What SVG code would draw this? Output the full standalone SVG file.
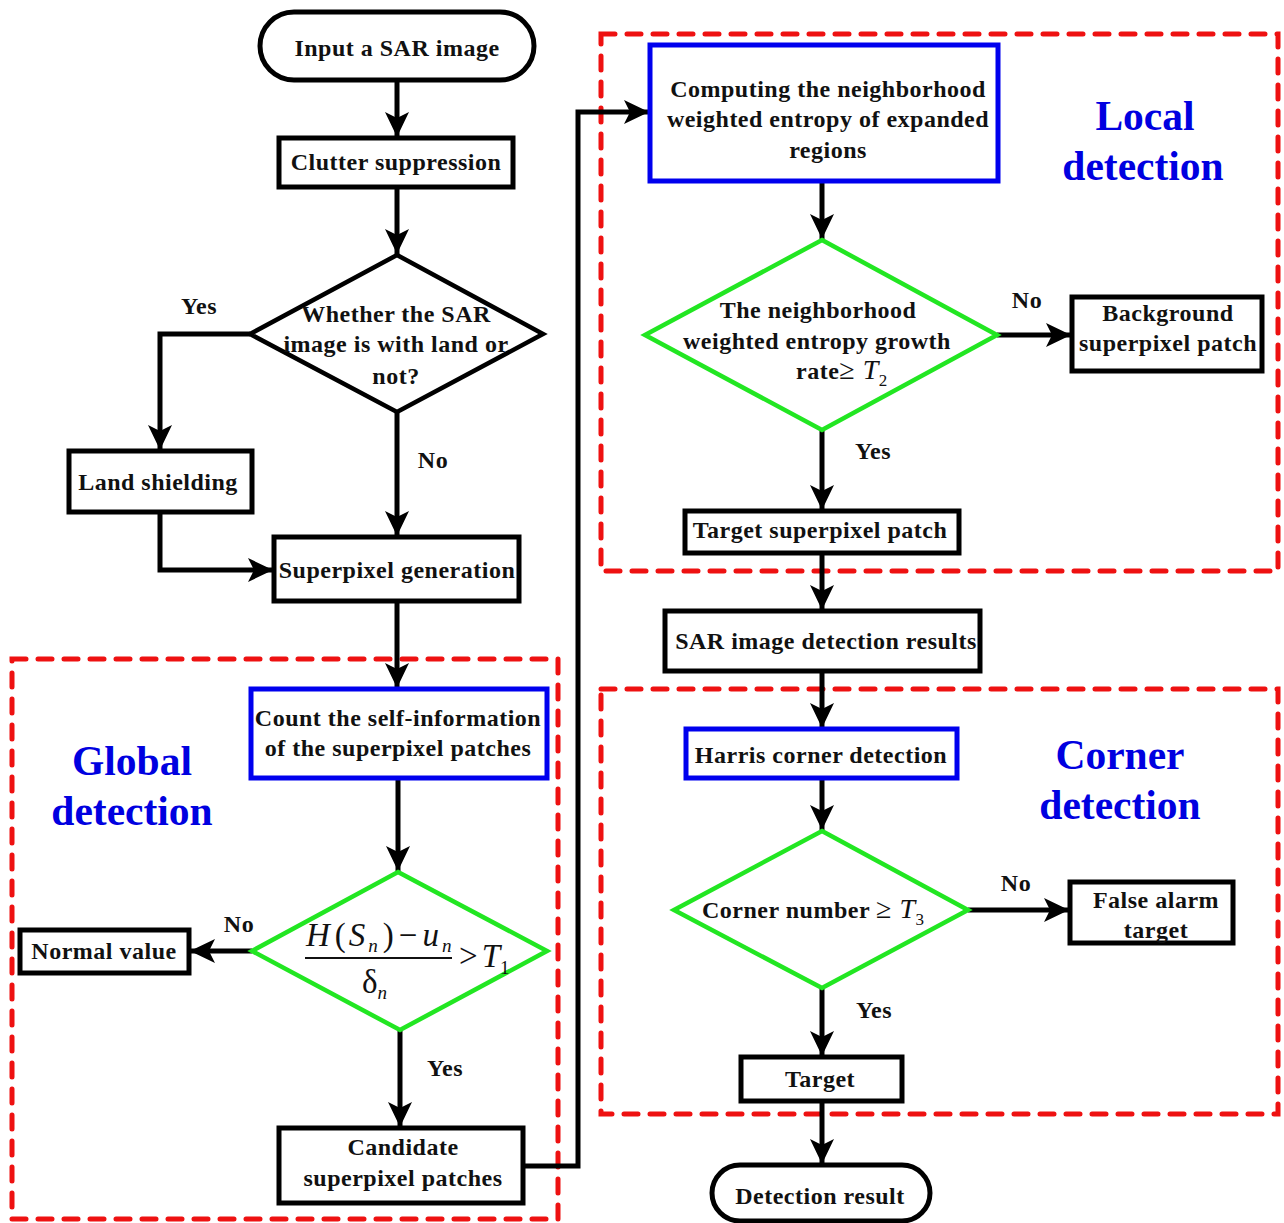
<svg xmlns="http://www.w3.org/2000/svg" width="1284" height="1223" viewBox="0 0 1284 1223">
<defs>
<style>
.t{font-family:"Liberation Serif","Times New Roman",serif;font-weight:bold;font-size:24px;letter-spacing:0.5px;fill:#111;text-anchor:middle}
.ts{text-anchor:start}
.big{font-family:"Liberation Serif","Times New Roman",serif;font-weight:bold;font-size:41.5px;fill:#0000e0;text-anchor:middle}
.m{font-family:"Liberation Serif","Times New Roman",serif;font-style:italic;font-weight:normal;fill:#111}
.mr{font-family:"Liberation Serif","Times New Roman",serif;font-style:normal;font-weight:normal;fill:#111}
.box{fill:#fff;stroke:#000;stroke-width:5}
.bbox{fill:#fff;stroke:#0000ee;stroke-width:5}
.dia{fill:#fff;stroke:#000;stroke-width:4.5}
.gdia{fill:#fff;stroke:#22e622;stroke-width:4.5}
.zone{fill:none;stroke:#ee1111;stroke-width:5;stroke-dasharray:14 12;stroke-linecap:round}
.ca{fill:none;stroke:#000;stroke-width:5;marker-end:url(#ah)}
</style>
<marker id="ah" markerUnits="userSpaceOnUse" markerWidth="26" markerHeight="26" viewBox="0 -13 26 26" refX="25" refY="0" orient="auto">
<path d="M0,-12 L25,0 L0,12 L6,0 z" fill="#000"/>
</marker>
</defs>

<g id="zones">
<rect id="zone-global" class="zone" x="12" y="659" width="546" height="560"/>
<rect id="zone-local" class="zone" x="601" y="34" width="677" height="537"/>
<rect id="zone-corner" class="zone" x="601" y="689" width="677" height="425"/>
</g>

<g id="connectors">
<line class="ca" x1="397" y1="80" x2="397" y2="137"/>
<line class="ca" x1="397" y1="187" x2="397" y2="254"/>
<polyline class="ca" points="250,334 160,334 160,450"/>
<line class="ca" x1="397" y1="412" x2="397" y2="536"/>
<polyline class="ca" points="160,512 160,570 273,570"/>
<line class="ca" x1="397" y1="601" x2="397" y2="688"/>
<line class="ca" x1="398" y1="778" x2="398" y2="871"/>
<line class="ca" x1="252" y1="951" x2="190" y2="951"/>
<line class="ca" x1="400" y1="1030" x2="400" y2="1127"/>
<polyline class="ca" points="523,1166 578,1166 578,112 649,112"/>
<line class="ca" x1="822" y1="181" x2="822" y2="239"/>
<line class="ca" x1="997" y1="335" x2="1071" y2="335"/>
<line class="ca" x1="822" y1="430" x2="822" y2="510"/>
<line class="ca" x1="822" y1="553" x2="822" y2="610"/>
<line class="ca" x1="822" y1="671" x2="822" y2="728"/>
<line class="ca" x1="822" y1="778" x2="822" y2="830"/>
<line class="ca" x1="968" y1="910" x2="1069" y2="910"/>
<line class="ca" x1="822" y1="988" x2="822" y2="1056"/>
<line class="ca" x1="822" y1="1101" x2="822" y2="1164"/>
</g>

<g id="edge-labels">
<text class="t" x="199" y="314">Yes</text>
<text class="t" x="433" y="468">No</text>
<text class="t" x="239" y="932">No</text>
<text class="t" x="445" y="1076">Yes</text>
<text class="t" x="1027" y="308">No</text>
<text class="t" x="873" y="459">Yes</text>
<text class="t" x="1016" y="891">No</text>
<text class="t" x="874" y="1018">Yes</text>
</g>

<g id="n-input">
<rect class="box" x="260" y="12" width="274" height="68" rx="34"/>
<text class="t" x="397" y="56">Input a SAR image</text>
</g>
<g id="n-clutter">
<rect class="box" x="279" y="138" width="234" height="49"/>
<text class="t" x="396" y="170">Clutter suppression</text>
</g>
<g id="n-land-q">
<polygon class="dia" points="397,255 543,334 397,412 250,334"/>
<text class="t" x="396" y="322">Whether the SAR</text>
<text class="t" x="396" y="352">image is with land or</text>
<text class="t" x="396" y="384">not?</text>
</g>
<g id="n-land">
<rect class="box" x="69" y="451" width="183" height="61"/>
<text class="t" x="158" y="490">Land shielding</text>
</g>
<g id="n-superpixel">
<rect class="box" x="274" y="537" width="245" height="64"/>
<text class="t" x="397" y="578">Superpixel generation</text>
</g>
<g id="n-count">
<rect class="bbox" x="251" y="689" width="296" height="89"/>
<text class="t" x="398" y="726">Count the self-information</text>
<text class="t" x="398" y="756">of the superpixel patches</text>
</g>
<g id="n-global-q">
<polygon class="gdia" points="398,872 547,951 400,1030 252,951"/>
<text class="m" x="306" y="946" font-size="33" letter-spacing="3">H<tspan class="mr" dx="2">(</tspan>S<tspan font-size="19" dy="6">n</tspan><tspan class="mr" dy="-6" dx="2">)</tspan><tspan class="mr" dx="2">−</tspan><tspan dx="2">u</tspan><tspan font-size="19" dy="6">n</tspan></text>
<line x1="305" y1="958" x2="452" y2="958" stroke="#111" stroke-width="2"/>
<text class="mr" x="362" y="993" font-size="33">δ<tspan class="m" font-size="19" dy="6">n</tspan></text>
<text class="mr" x="459" y="967" font-size="33">&gt;<tspan class="m" dx="4">T</tspan><tspan font-size="19" dy="7">1</tspan></text>
</g>
<g id="n-normal">
<rect class="box" x="20" y="930" width="169" height="43"/>
<text class="t" x="104" y="959">Normal value</text>
</g>
<g id="n-candidate">
<rect class="box" x="279" y="1128" width="244" height="75"/>
<text class="t" x="403" y="1155">Candidate</text>
<text class="t" x="403" y="1186">superpixel patches</text>
</g>
<g id="n-computing">
<rect class="bbox" x="650" y="45" width="348" height="136"/>
<text class="t" x="828" y="97">Computing the neighborhood</text>
<text class="t" x="828" y="127">weighted entropy of expanded</text>
<text class="t" x="828" y="158">regions</text>
</g>
<g id="n-local-q">
<polygon class="gdia" points="822,240 997,335 822,430 645,335"/>
<text class="t" x="818" y="318">The neighborhood</text>
<text class="t" x="817" y="349">weighted entropy growth</text>
<text class="t ts" x="796" y="379">rate<tspan class="mr" font-size="28">≥ </tspan><tspan class="m" font-size="28">T</tspan><tspan class="mr" font-size="17" dy="7">2</tspan></text>
</g>
<g id="n-background">
<rect class="box" x="1072" y="297" width="190" height="74"/>
<text class="t" x="1168" y="321">Background</text>
<text class="t" x="1168" y="351">superpixel patch</text>
</g>
<g id="n-target-patch">
<rect class="box" x="685" y="511" width="274" height="42"/>
<text class="t" x="820" y="538">Target superpixel patch</text>
</g>
<g id="n-sar-results">
<rect class="box" x="665" y="611" width="315" height="60"/>
<text class="t" x="826" y="649">SAR image detection results</text>
</g>
<g id="n-harris">
<rect class="bbox" x="686" y="729" width="271" height="49"/>
<text class="t" x="821" y="763">Harris corner detection</text>
</g>
<g id="n-corner-q">
<polygon class="gdia" points="822,831 968,910 822,988 674,910"/>
<text class="t ts" x="702" y="918">Corner number <tspan class="mr" font-size="28">≥ </tspan><tspan class="m" font-size="28">T</tspan><tspan class="mr" font-size="17" dy="7">3</tspan></text>
</g>
<g id="n-false-alarm">
<rect class="box" x="1070" y="882" width="163" height="61"/>
<text class="t" x="1156" y="908">False alarm</text>
<text class="t" x="1156" y="938">target</text>
</g>
<g id="n-target">
<rect class="box" x="741" y="1057" width="161" height="44"/>
<text class="t" x="820" y="1087">Target</text>
</g>
<g id="n-detection-result">
<rect class="box" x="712" y="1165" width="218" height="56" rx="28"/>
<text class="t" x="820" y="1204">Detection result</text>
</g>

<g id="zone-labels">
<text class="big" x="132" y="775">Global</text>
<text class="big" x="132" y="825">detection</text>
<text class="big" x="1145" y="130">Local</text>
<text class="big" x="1143" y="180">detection</text>
<text class="big" x="1120" y="769">Corner</text>
<text class="big" x="1120" y="819">detection</text>
</g>
</svg>
